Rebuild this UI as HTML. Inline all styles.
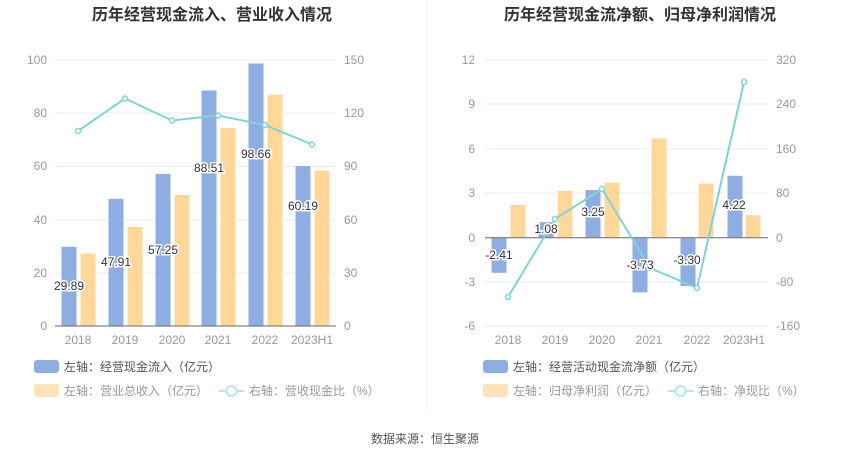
<!DOCTYPE html>
<html><head><meta charset="utf-8"><style>
body{margin:0;background:#fff;}
svg text{font-family:"Liberation Sans","Noto Sans CJK SC",sans-serif;}
</style></head><body>
<svg width="850" height="459" xmlns="http://www.w3.org/2000/svg">
<rect width="850" height="459" fill="#fff"/>
<line x1="427" y1="0" x2="427" y2="410" stroke="#eee"/>
<text x="212" y="20" text-anchor="middle" font-size="16" font-weight="bold" fill="#333">历年经营现金流入、营业收入情况</text>
<text x="640" y="20" text-anchor="middle" font-size="16" font-weight="bold" fill="#333">历年经营现金流净额、归母净利润情况</text>
<g stroke="#e3e8f3">
<line x1="55" x2="336" y1="60" y2="60"/><line x1="55" x2="336" y1="113" y2="113"/><line x1="55" x2="336" y1="166.5" y2="166.5"/><line x1="55" x2="336" y1="220" y2="220"/><line x1="55" x2="336" y1="273" y2="273"/>
<line x1="485" x2="768" y1="60" y2="60"/><line x1="485" x2="768" y1="104" y2="104"/><line x1="485" x2="768" y1="149" y2="149"/><line x1="485" x2="768" y1="193" y2="193"/><line x1="485" x2="768" y1="282" y2="282"/><line x1="485" x2="768" y1="326" y2="326"/>
</g>
<g font-size="12" fill="#999">
<g text-anchor="end"><text x="47" y="64">100</text><text x="47" y="117">80</text><text x="47" y="170">60</text><text x="47" y="224">40</text><text x="47" y="277">20</text><text x="47" y="330">0</text>
<text x="475" y="64">12</text><text x="475" y="108">9</text><text x="475" y="153">6</text><text x="475" y="197">3</text><text x="475" y="242">0</text><text x="475" y="286">-3</text><text x="475" y="330">-6</text></g>
<text x="344" y="64">150</text><text x="344" y="117">120</text><text x="344" y="170">90</text><text x="344" y="224">60</text><text x="344" y="277">30</text><text x="344" y="330">0</text>
<text x="776" y="64">320</text><text x="776" y="108">240</text><text x="776" y="153">160</text><text x="776" y="197">80</text><text x="776" y="242">0</text><text x="776" y="286">-80</text><text x="776" y="330">-160</text>
<g text-anchor="middle"><text x="78" y="344">2018</text><text x="125" y="344">2019</text><text x="172" y="344">2020</text><text x="218" y="344">2021</text><text x="265" y="344">2022</text><text x="312" y="344">2023H1</text>
<text x="508" y="344">2018</text><text x="555" y="344">2019</text><text x="602" y="344">2020</text><text x="649" y="344">2021</text><text x="697" y="344">2022</text><text x="744" y="344">2023H1</text></g>
</g>
<!-- left bars -->
<g fill="#8eade0" stroke="#fff" stroke-width="1">
<rect x="61" y="246.3" width="16" height="79.7"/><rect x="108" y="198.3" width="16" height="127.7"/><rect x="155" y="173.4" width="16" height="152.6"/><rect x="201" y="90" width="16" height="236"/><rect x="248" y="63" width="16" height="263"/><rect x="295" y="165.5" width="16" height="160.5"/>
</g>
<g fill="#ffd899" stroke="#fff">
<rect x="80" y="253" width="16" height="73"/><rect x="127" y="226.5" width="16" height="99.5"/><rect x="174" y="194.5" width="16" height="131.5"/><rect x="220" y="127.5" width="16" height="198.5"/><rect x="267" y="94" width="16" height="232"/><rect x="314" y="170" width="16" height="156"/>
</g>
<line x1="55" x2="336" y1="326" y2="326" stroke="#666"/>
<polyline points="78,131 125,98.5 172,120.5 218,115.5 265,125 312,144.5" fill="none" stroke="#7fd3d8" stroke-width="2"/>
<g fill="#fff" stroke="#7fd3d8" stroke-width="1.5"><circle cx="78" cy="131" r="2.5"/><circle cx="125" cy="98.5" r="2.5"/><circle cx="172" cy="120.5" r="2.5"/><circle cx="218" cy="115.5" r="2.5"/><circle cx="265" cy="125" r="2.5"/><circle cx="312" cy="144.5" r="2.5"/></g>
<!-- right bars -->
<g fill="#8eade0" stroke="#fff">
<rect x="491" y="237.7" width="16" height="35.6"/><rect x="538" y="221.7" width="16" height="16"/><rect x="585" y="189.6" width="16" height="48.1"/><rect x="632" y="237.7" width="16" height="55.2"/><rect x="680" y="237.7" width="16" height="48.8"/><rect x="727" y="175.3" width="16" height="62.4"/>
</g>
<g fill="#ffd899" stroke="#fff">
<rect x="510" y="204.5" width="16" height="33.2"/><rect x="557" y="190.4" width="16" height="47.3"/><rect x="604" y="182.3" width="16" height="55.4"/><rect x="651" y="137.9" width="16" height="99.8"/><rect x="698" y="183" width="16" height="54.7"/><rect x="745" y="214.8" width="16" height="22.9"/>
</g>
<line x1="485" x2="768" y1="237.7" y2="237.7" stroke="#666"/>
<polyline points="508,297 555,219 602,189 650,268 697,288 744,82" fill="none" stroke="#7fd3d8" stroke-width="2"/>
<g fill="#fff" stroke="#7fd3d8" stroke-width="1.5"><circle cx="508" cy="297" r="2.5"/><circle cx="555" cy="219" r="2.5"/><circle cx="602" cy="189" r="2.5"/><circle cx="650" cy="268" r="2.5"/><circle cx="697" cy="288" r="2.5"/><circle cx="744" cy="82" r="2.5"/></g>
<g font-size="12" fill="#333" text-anchor="middle" stroke="#fff" stroke-width="3" paint-order="stroke">
<text x="69" y="290">29.89</text><text x="116" y="266">47.91</text><text x="163" y="254">57.25</text><text x="209" y="172">88.51</text><text x="256" y="158">98.66</text><text x="303" y="210">60.19</text>
<text x="499" y="259">-2.41</text><text x="546" y="233">1.08</text><text x="593" y="216">3.25</text><text x="640" y="269">-3.73</text><text x="687" y="264">-3.30</text><text x="734" y="209">4.22</text>
</g>
<!-- legends -->
<g font-size="12" fill="#555">
<rect x="34" y="360" width="25" height="13" rx="3" fill="#8eade0"/><text x="64" y="371">左轴：经营现金流入（亿元）</text>
<rect x="34" y="384" width="25" height="13" rx="3" fill="#ffe2b5"/><text x="64" y="395" fill="#999">左轴：营业总收入（亿元）</text>
<line x1="219" x2="244" y1="391" y2="391" stroke="#b5e6e9" stroke-width="2"/><circle cx="231.5" cy="391" r="5" fill="#fff" stroke="#b5e6e9" stroke-width="2"/><text x="249" y="395" fill="#999">右轴：营收现金比（%）</text>
<rect x="483" y="360" width="25" height="13" rx="3" fill="#8eade0"/><text x="513" y="371">左轴：经营活动现金流净额（亿元）</text>
<rect x="483" y="384" width="25" height="13" rx="3" fill="#ffe2b5"/><text x="513" y="395" fill="#999">左轴：归母净利润（亿元）</text>
<line x1="668" x2="693" y1="391" y2="391" stroke="#b5e6e9" stroke-width="2"/><circle cx="680.5" cy="391" r="5" fill="#fff" stroke="#b5e6e9" stroke-width="2"/><text x="698" y="395" fill="#999">右轴：净现比（%）</text>
</g>
<text x="425" y="443" text-anchor="middle" font-size="12" fill="#555">数据来源：恒生聚源</text>
</svg>
</body></html>
